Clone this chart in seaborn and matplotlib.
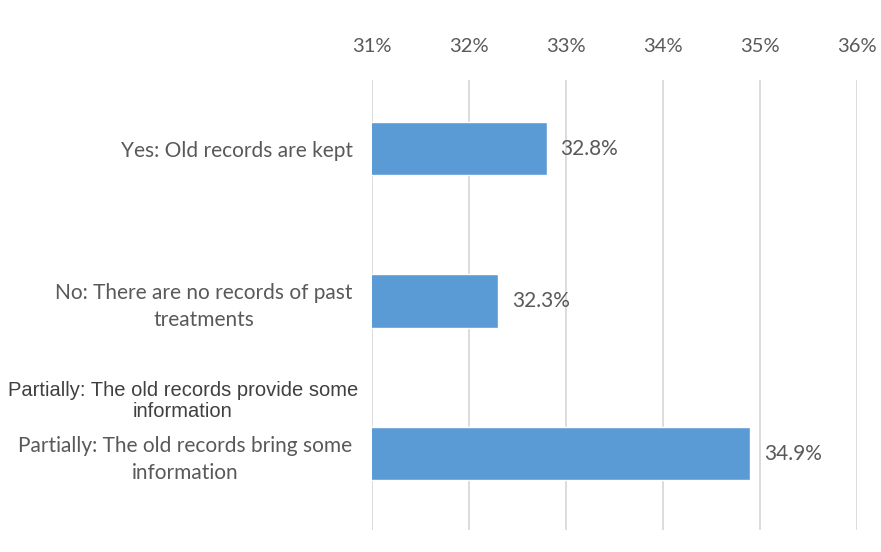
import matplotlib
matplotlib.use("Agg")
import matplotlib.pyplot as plt
import seaborn as sns
import pandas as pd

# Survey answers and their shares (percent)
categories = [
    "Yes: Old records are kept",
    "No: There are no records of past\ntreatments",
    "Partially: The old records bring some\ninformation",
]
values = [32.8, 32.3, 34.9]
tick_values = [31, 32, 33, 34, 35, 36]
tick_labels = ["31%", "32%", "33%", "34%", "35%", "36%"]
overlay_note = "Partially: The old records provide some\ninformation"

sns.set_theme(style="white")
plt.rcParams["font.family"] = ["Lato", "DejaVu Sans"]

text_color = "#595959"

fig = plt.figure(figsize=(8.81, 5.52), dpi=100)
ax = fig.add_axes([0.4222, 0.040, 0.5505, 0.815])

df = pd.DataFrame({"answer": categories, "share": values})
sns.barplot(data=df, x="share", y="answer", orient="h", color="#5B9BD5",
            saturation=1, width=0.35, ax=ax)

ax.set_xlim(31, 36)
ax.set_ylim(2.5, -0.45)
ax.set_xticks(tick_values)
ax.set_xticklabels(tick_labels)
ax.xaxis.tick_top()
ax.tick_params(axis="x", length=0, pad=18, labelsize=14.5, labelcolor=text_color)
ax.tick_params(axis="y", length=0, pad=14, labelsize=15, labelcolor=text_color)
for lbl in ax.get_yticklabels():
    lbl.set_multialignment("center")
    lbl.set_linespacing(1.45)
ax.grid(axis="x", color="#d9d9d9", lw=1.3)
ax.grid(axis="y", visible=False)
ax.set_axisbelow(True)
for s in ax.spines.values():
    s.set_visible(False)
ax.set_xlabel("")
ax.set_ylabel("")

ax.bar_label(ax.containers[0], labels=[f"{v}%" for v in values], padding=10,
             fontsize=15, color=text_color)

fig.text(183 / 881, 1 - 401 / 552, overlay_note, ha="center", va="center",
         family=["Liberation Sans", "DejaVu Sans"], fontsize=14.5,
         color="#404040", linespacing=1.15)

fig.savefig("out.png", dpi=100, facecolor="white")
